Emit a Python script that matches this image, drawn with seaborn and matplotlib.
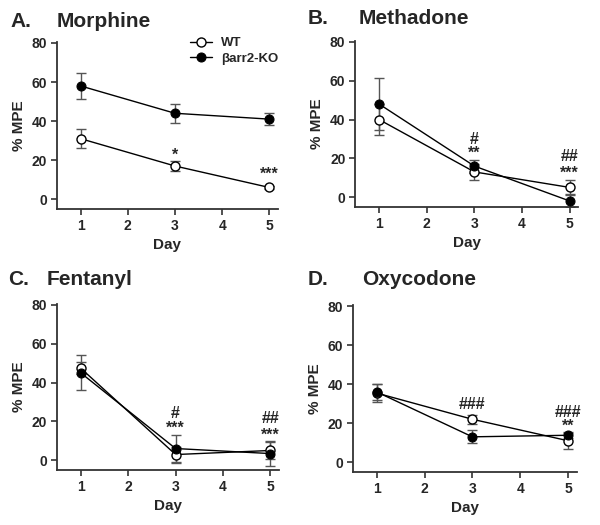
import numpy as np
import pandas as pd
from matplotlib import pyplot as plt
import seaborn as sns

sns.set_style("ticks")
plt.rcParams['font.family'] = ['Liberation Sans', 'DejaVu Sans']
plt.rcParams['font.weight'] = 'bold'

# data (mean and SEM, % MPE)
days = [1, 3, 5]

morphine_wt = [31, 17, 6]
morphine_wt_sem = [5, 2.5, 1]
morphine_ko = [58, 44, 41]
morphine_ko_sem = [6.5, 4.8, 3.2]

methadone_wt = [40, 13, 5]
methadone_wt_sem = [8, 4, 3.6]
methadone_ko = [48, 16, -2]
methadone_ko_sem = [13.6, 3.3, 3]

fentanyl_wt = [47.4, 2.9, 5]
fentanyl_wt_sem = [3, 3.8, 4.3]
fentanyl_ko = [45, 6, 3.4]
fentanyl_ko_sem = [9, 7.2, 6.3]

oxycodone_wt = [35.4, 22, 11]
oxycodone_wt_sem = [4.5, 2.3, 4]
oxycodone_ko = [36, 13, 13.8]
oxycodone_ko_sem = [4, 3.4, 1.5]

# significance labels: (day, y, text)
morphine_sig = [(3, 22.5, '*'), (5, 12.5, '***')]
methadone_sig = [(3, 29.5, '#'), (3, 22.5, '**'), (5, 21, '##'), (5, 12.5, '***')]
fentanyl_sig = [(3, 24, '#'), (3, 16.5, '***'), (5, 21.5, '##'), (5, 13, '***')]
oxycodone_sig = [(3, 29.5, '###'), (5, 25.5, '###'), (5, 18.5, '**')]

panels = [
    ('A.', 'Morphine', morphine_wt, morphine_wt_sem, morphine_ko, morphine_ko_sem, morphine_sig),
    ('B.', 'Methadone', methadone_wt, methadone_wt_sem, methadone_ko, methadone_ko_sem, methadone_sig),
    ('C.', 'Fentanyl', fentanyl_wt, fentanyl_wt_sem, fentanyl_ko, fentanyl_ko_sem, fentanyl_sig),
    ('D.', 'Oxycodone', oxycodone_wt, oxycodone_wt_sem, oxycodone_ko, oxycodone_ko_sem, oxycodone_sig),
]

# axes rectangles [left, bottom, width, height] and title spots
rects = [[0.095, 0.602, 0.368, 0.318],
         [0.592, 0.606, 0.372, 0.316],
         [0.095, 0.105, 0.37, 0.316],
         [0.588, 0.101, 0.373, 0.318]]
letter_pos = [(0.017, 0.949), (0.512, 0.954), (0.013, 0.457), (0.512, 0.457)]
name_pos = [(0.095, 0.949), (0.597, 0.954), (0.078, 0.457), (0.603, 0.457)]

fig = plt.figure(figsize=(6, 5.25), dpi=100)

for i, (letter, name, wt, wt_sem, ko, ko_sem, sig) in enumerate(panels):
    ax = fig.add_axes(rects[i])
    df = pd.DataFrame({
        'Day': days * 2,
        'MPE': wt + ko,
        'Genotype': ['WT'] * 3 + ['\u03b2arr2-KO'] * 3,
    })

    # error bars behind the markers
    ax.errorbar(days, wt, yerr=wt_sem, fmt='none', ecolor='#555555',
                elinewidth=1.0, capsize=3.5, capthick=1.0, zorder=1)
    ax.errorbar(days, ko, yerr=ko_sem, fmt='none', ecolor='#555555',
                elinewidth=1.0, capsize=3.5, capthick=1.0, zorder=1)

    sns.lineplot(data=df[df['Genotype'] == 'WT'], x='Day', y='MPE', ax=ax,
                 color='black', lw=1, marker='o', markersize=6.5,
                 markerfacecolor='white', markeredgecolor='black',
                 markeredgewidth=1, label='WT', zorder=3)
    sns.lineplot(data=df[df['Genotype'] != 'WT'], x='Day', y='MPE', ax=ax,
                 color='black', lw=1, marker='o', markersize=6.5,
                 markerfacecolor='black', markeredgecolor='black',
                 label='\u03b2arr2-KO', zorder=4)

    for d, y, txt in sig:
        ax.text(d, y, txt, ha='center', va='center', fontsize=11.5, fontweight='bold')

    ax.set_xlim(0.5, 5.18)
    ax.set_ylim(-5, 80.5)
    ax.set_xticks([1, 2, 3, 4, 5])
    ax.set_yticks([0, 20, 40, 60, 80])
    ax.set_xlabel('Day', fontsize=11, fontweight='bold', labelpad=4)
    ax.set_ylabel('% MPE', fontsize=11, fontweight='bold', labelpad=4)
    ax.tick_params(direction='out', length=4, width=1.2, color='#333333', labelsize=10, pad=3)
    for lab in ax.get_xticklabels() + ax.get_yticklabels():
        lab.set_fontweight('bold')
    sns.despine(ax=ax)
    for s in ['left', 'bottom']:
        ax.spines[s].set_linewidth(1.3)
        ax.spines[s].set_color('#333333')

    if i == 0:
        ax.legend(loc='upper right', bbox_to_anchor=(1.055, 1.1), frameon=False,
                  handlelength=1.6, handletextpad=0.7, labelspacing=0.25,
                  prop={'weight': 'bold', 'size': 9.5})
    else:
        ax.get_legend().remove()

    fig.text(*letter_pos[i], letter, fontsize=15, fontweight='bold')
    fig.text(*name_pos[i], name, fontsize=15, fontweight='bold')

plt.savefig('out.png', dpi=100)
